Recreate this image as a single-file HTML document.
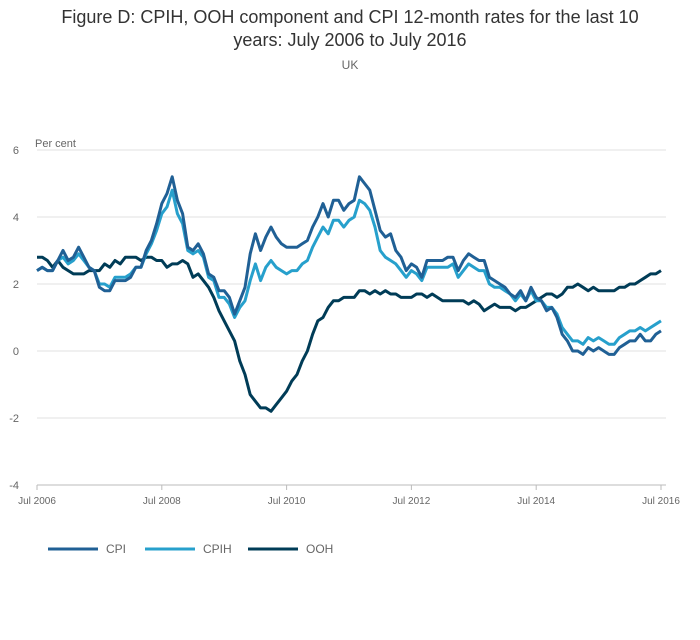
<!DOCTYPE html>
<html><head><meta charset="utf-8"><style>
body{margin:0;background:#fff;font-family:"Liberation Sans",sans-serif;}
svg text{font-family:"Liberation Sans",sans-serif;}
</style></head><body>
<svg id="chart" width="700" height="635" xmlns="http://www.w3.org/2000/svg">
<text x="350" y="23" text-anchor="middle" font-size="18" fill="#333">Figure D: CPIH, OOH component and CPI 12-month rates for the last 10</text>
<text x="350" y="46" text-anchor="middle" font-size="18" fill="#333">years: July 2006 to July 2016</text>
<text x="350" y="69" text-anchor="middle" font-size="12" fill="#666">UK</text>
<text x="35" y="147" font-size="11" fill="#666">Per cent</text>
<g id="grid"></g><g id="series"></g><g id="legend"></g>
</svg>
<script>
const yTicks=[6,4,2,0,-2,-4];
const xTickLabels=["Jul 2006","Jul 2008","Jul 2010","Jul 2012","Jul 2014","Jul 2016"];
const cpi=[2.4,2.5,2.4,2.4,2.7,3.0,
2.7,2.8,3.1,2.8,2.5,2.4,1.9,1.8,1.8,2.1,2.1,2.1,
2.2,2.5,2.5,3.0,3.3,3.8,4.4,4.7,5.2,4.5,4.1,3.1,
3.0,3.2,2.9,2.3,2.2,1.8,1.8,1.6,1.1,1.5,1.9,2.9,
3.5,3.0,3.4,3.7,3.4,3.2,3.1,3.1,3.1,3.2,3.3,3.7,
4.0,4.4,4.0,4.5,4.5,4.2,4.4,4.5,5.2,5.0,4.8,4.2,
3.6,3.4,3.5,3.0,2.8,2.4,2.6,2.5,2.2,2.7,2.7,2.7,
2.7,2.8,2.8,2.4,2.7,2.9,2.8,2.7,2.7,2.2,2.1,2.0,
1.9,1.7,1.6,1.8,1.5,1.9,1.6,1.5,1.2,1.3,1.0,0.5,
0.3,0.0,0.0,-0.1,0.1,0.0,0.1,0.0,-0.1,-0.1,0.1,0.2,
0.3,0.3,0.5,0.3,0.3,0.5,0.6];
const cpih=[2.4,2.5,2.4,2.4,2.7,2.8,
2.6,2.7,2.9,2.7,2.5,2.4,2.0,2.0,1.9,2.2,2.2,2.2,
2.3,2.5,2.5,2.9,3.2,3.6,4.1,4.3,4.8,4.1,3.8,3.0,
2.9,3.0,2.8,2.2,2.1,1.6,1.6,1.4,1.0,1.3,1.5,2.1,
2.6,2.1,2.5,2.7,2.5,2.4,2.3,2.4,2.4,2.6,2.7,3.1,
3.4,3.7,3.5,3.9,3.9,3.7,3.9,4.0,4.5,4.4,4.2,3.7,
3.0,2.8,2.7,2.6,2.4,2.2,2.4,2.3,2.1,2.5,2.5,2.5,
2.5,2.5,2.6,2.2,2.4,2.6,2.5,2.4,2.4,2.0,1.9,1.9,
1.8,1.7,1.5,1.7,1.5,1.8,1.5,1.5,1.3,1.3,1.1,0.7,
0.5,0.3,0.3,0.2,0.4,0.3,0.4,0.3,0.2,0.2,0.4,0.5,
0.6,0.6,0.7,0.6,0.7,0.8,0.9];
const ooh=[2.8,2.8,2.7,2.5,2.7,2.5,
2.4,2.3,2.3,2.3,2.4,2.4,2.4,2.6,2.5,2.7,2.6,2.8,
2.8,2.8,2.7,2.8,2.8,2.7,2.7,2.5,2.6,2.6,2.7,2.6,
2.2,2.3,2.1,1.9,1.6,1.2,0.9,0.6,0.3,-0.3,-0.7,-1.3,
-1.5,-1.7,-1.7,-1.8,-1.6,-1.4,-1.2,-0.9,-0.7,-0.3,0.0,0.5,
0.9,1.0,1.3,1.5,1.5,1.6,1.6,1.6,1.8,1.8,1.7,1.8,
1.7,1.8,1.7,1.7,1.6,1.6,1.6,1.7,1.7,1.6,1.7,1.6,
1.5,1.5,1.5,1.5,1.5,1.4,1.5,1.4,1.2,1.3,1.4,1.3,
1.3,1.3,1.2,1.3,1.3,1.4,1.5,1.6,1.7,1.7,1.6,1.7,
1.9,1.9,2.0,1.9,1.8,1.9,1.8,1.8,1.8,1.8,1.9,1.9,
2.0,2.0,2.1,2.2,2.3,2.3,2.4];
const seriesNames=["CPI","CPIH","OOH"];
const NS="http://www.w3.org/2000/svg";
const x0=37,x1=661,yTop=150,yBot=485;
function xs(i){return x0+(x1-x0)*i/120;}
function ys(v){return yBot-(v+4)/10*(yBot-yTop);}
function mk(tag,attrs,parent){const e=document.createElementNS(NS,tag);for(const k in attrs)e.setAttribute(k,attrs[k]);parent.appendChild(e);return e;}
const grid=document.getElementById('grid');
yTicks.forEach(t=>{
 const l=mk('line',{x1:x0,x2:666,y1:ys(t),y2:ys(t),stroke:t===-4?'#bbb':'#e0e0e0','stroke-width':1},grid);
 
 
 const tx=mk('text',{x:19,y:ys(t)+4,'font-size':11,fill:'#666','text-anchor':'end'},grid);
 tx.textContent=t;
 
 
});
xTickLabels.forEach((lab,j)=>{
 const x=xs(j*24);
 const tk=mk('line',{x1:x,x2:x,y1:yBot,y2:yBot+5,stroke:'#bbb'},grid);
 
 
 const tx=mk('text',{x:x,y:yBot+19,'font-size':10,fill:'#666','text-anchor':'middle'},grid);
 tx.textContent=lab;
 
 
});
const colors=["#206095","#27a0cc","#003c57"];
const data=[cpi,cpih,ooh];
const sg=document.getElementById('series');
[2,1,0].forEach(k=>{
 const d=data[k].map((v,i)=>(i?'L':'M')+xs(i).toFixed(1)+','+ys(v).toFixed(1)).join('');
 const p=mk('path',{d:d,fill:'none',stroke:colors[k],'stroke-width':3,'stroke-linejoin':'round'},sg);
 
 
});
const lg=document.getElementById('legend');
const lx=[48,145,248];
seriesNames.forEach((n,k)=>{
 const g=mk('g',{},lg);
 
 
 mk('line',{x1:lx[k],x2:lx[k]+50,y1:549,y2:549,stroke:colors[k],'stroke-width':3},g);
 const t=mk('text',{x:lx[k]+58,y:553,'font-size':12,fill:'#666'},g);
 t.textContent=n;
});
</script>
</body></html>
